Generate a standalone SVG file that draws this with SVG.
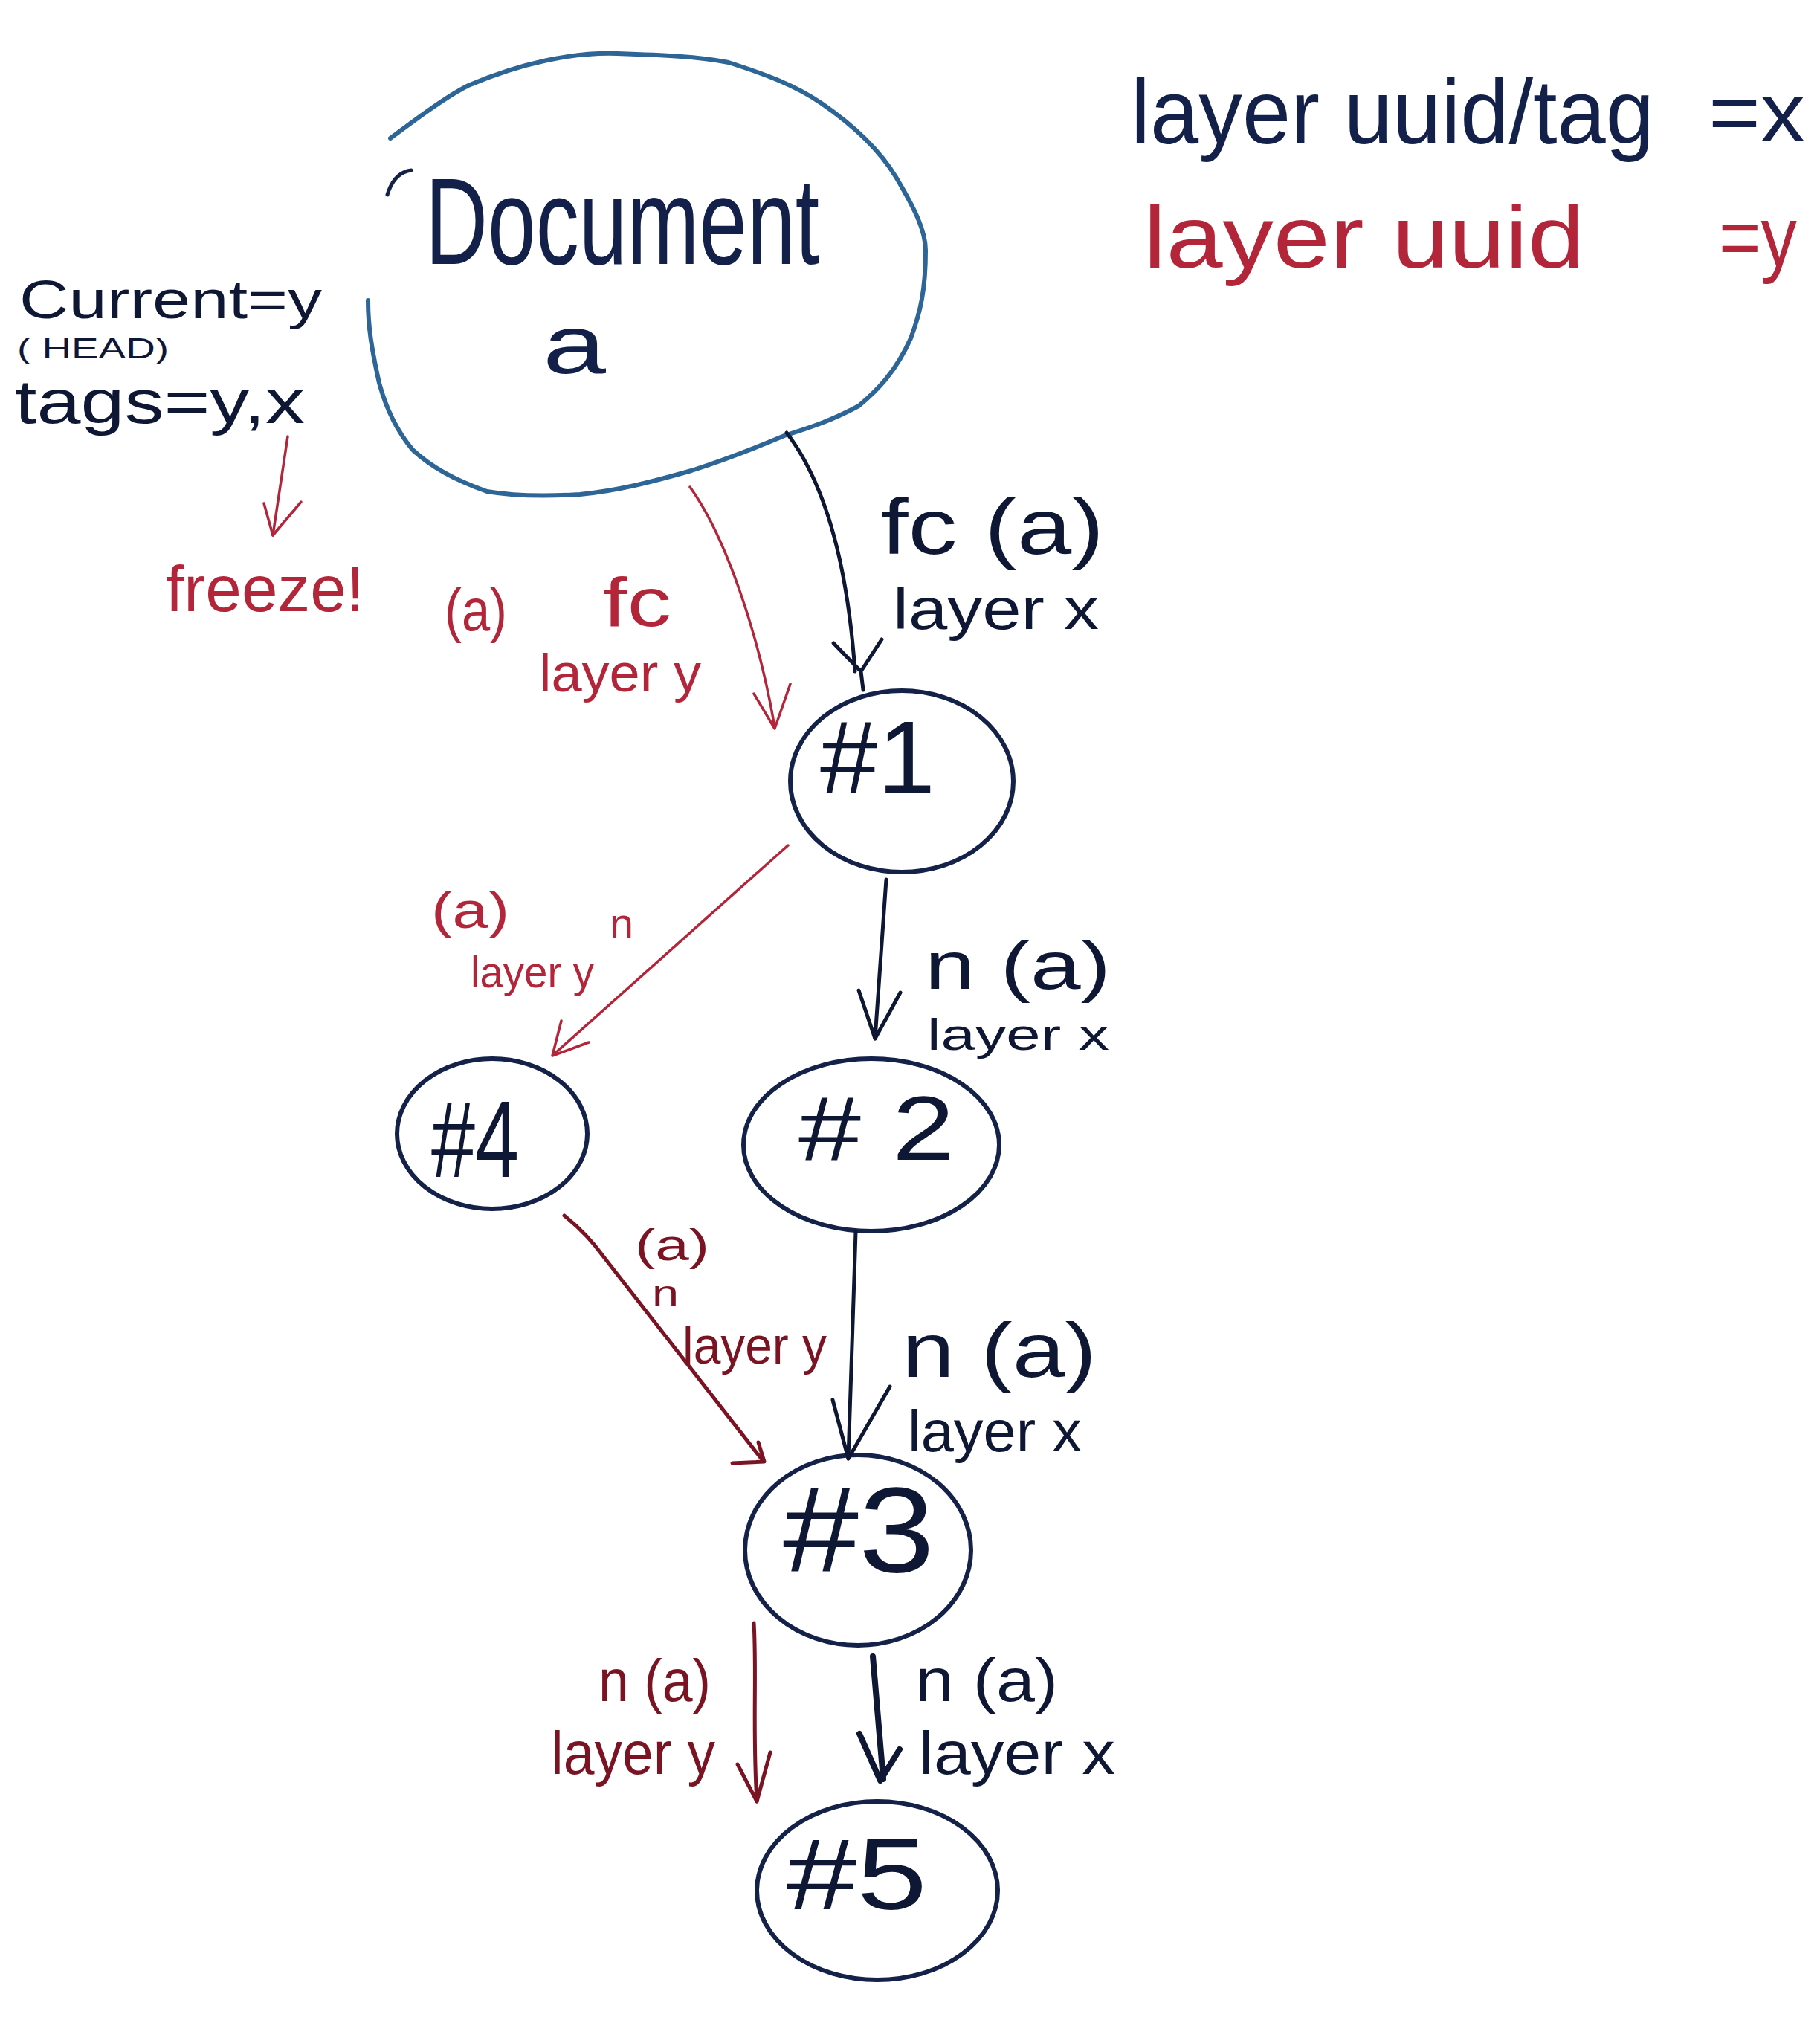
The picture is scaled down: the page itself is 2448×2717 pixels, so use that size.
<svg xmlns="http://www.w3.org/2000/svg" width="2448" height="2717" viewBox="0 0 2448 2717">
<style>
.bg{fill:#ffffff}
.node{fill:none;stroke:#14224a;stroke-width:6;stroke-linecap:round}
.blob{fill:none;stroke:#2d6596;stroke-width:6;stroke-linecap:round}
.ink{fill:none;stroke:#0e1733;stroke-width:5;stroke-linecap:round;stroke-linejoin:round}
.inkb{fill:none;stroke:#0e1733;stroke-width:8;stroke-linecap:round;stroke-linejoin:round}
.red{fill:none;stroke:#b3263a;stroke-width:3.5;stroke-linecap:round;stroke-linejoin:round}
.maroon{fill:none;stroke:#7a1322;stroke-width:5;stroke-linecap:round;stroke-linejoin:round}
text{font-family:"Liberation Sans","DejaVu Sans",sans-serif}
.tn{fill:#0e1733}
.tnav{fill:#12204a}
.tr{fill:#b3263a}
.tm{fill:#7a1322}
</style>
<rect class="bg" x="0" y="0" width="2448" height="2717"/>

<!-- legend / notes -->
<g id="notes">
<text class="tn" x="26" y="428" font-size="72" textLength="407" lengthAdjust="spacingAndGlyphs">Current=y</text>
<text class="tn" x="23" y="482" font-size="38" textLength="204" lengthAdjust="spacingAndGlyphs">( HEAD)</text>
<text class="tn" x="20" y="569" font-size="84" textLength="390" lengthAdjust="spacingAndGlyphs">tags=y,x</text>
<text class="tr" x="223" y="822" font-size="88" textLength="267" lengthAdjust="spacingAndGlyphs">freeze!</text>
<text class="tnav" x="1521" y="193" font-size="122" textLength="704" lengthAdjust="spacingAndGlyphs">layer uuid/tag</text>
<text class="tnav" x="2298" y="190" font-size="112" textLength="130" lengthAdjust="spacingAndGlyphs">=x</text>
<text class="tr" x="1538" y="360" font-size="118" textLength="593" lengthAdjust="spacingAndGlyphs">layer uuid</text>
<text class="tr" x="2312" y="358" font-size="115" textLength="105" lengthAdjust="spacingAndGlyphs">=y</text>
</g>

<!-- nodes -->
<g id="node-document">
<path class="blob" d="M525,186 C560,160 600,130 630,115 C700,85 770,70 830,72 C890,74 940,76 980,84 C1030,100 1070,115 1105,139 C1150,170 1185,205 1205,238 C1230,280 1245,310 1245,337 C1245,390 1238,420 1225,455 C1205,500 1180,525 1155,546 C1120,565 1090,575 1055,586 C1010,605 970,620 930,633 C870,650 830,660 780,665 C730,668 690,667 655,661 C610,645 580,628 555,605 C530,575 518,545 510,515 C500,470 495,440 495,404"/>
<path class="ink" d="M553,229 Q530,232 521,262" style="stroke:#14224a"/>
<text class="tnav" x="572" y="355" font-size="165" textLength="530" lengthAdjust="spacingAndGlyphs">Document</text>
<text class="tnav" x="730" y="502" font-size="112" textLength="85" lengthAdjust="spacingAndGlyphs">a</text>
</g>
<g id="node-1">
<ellipse class="node" cx="1213" cy="1051" rx="150" ry="122"/>
<text class="tn" x="1103" y="1067" font-size="140" textLength="155" lengthAdjust="spacingAndGlyphs">#1</text>
</g>
<g id="node-2">
<ellipse class="node" cx="1172" cy="1540" rx="172" ry="116"/>
<text class="tn" x="1074" y="1560" font-size="122" textLength="210" lengthAdjust="spacingAndGlyphs"># 2</text>
</g>
<g id="node-4">
<ellipse class="node" cx="662" cy="1525" rx="128" ry="101"/>
<text class="tn" x="580" y="1583" font-size="146" textLength="118" lengthAdjust="spacingAndGlyphs">#4</text>
</g>
<g id="node-3">
<ellipse class="node" cx="1154" cy="2085" rx="152" ry="128"/>
<text class="tn" x="1053" y="2114" font-size="163" textLength="204" lengthAdjust="spacingAndGlyphs">#3</text>
</g>
<g id="node-5">
<ellipse class="node" cx="1180" cy="2543" rx="162" ry="120"/>
<text class="tn" x="1058" y="2568" font-size="135" textLength="189" lengthAdjust="spacingAndGlyphs">#5</text>
</g>

<!-- connectors -->
<g id="connectors">
<path class="ink" d="M1058,582 C1110,650 1140,760 1150,903"/>
<path class="ink" d="M1121,865 L1158,903 L1186,860 M1158,903 L1161,928"/>
<path class="red" d="M928,655 C975,720 1020,850 1042,978"/>
<path class="red" d="M1014,933 L1042,980 L1063,920"/>
<path class="red" d="M1060,1137 L745,1418"/>
<path class="red" d="M755,1373 L743,1420 L792,1402"/>
<path class="ink" d="M1192,1183 L1177,1397"/>
<path class="ink" d="M1155,1332 L1177,1397 L1211,1335"/>
<path class="maroon" d="M759,1635 Q790,1660 810,1688 L1024,1962"/>
<path class="maroon" d="M985,1968 L1028,1966 L1020,1940"/>
<path class="ink" d="M1151,1657 L1141,1962"/>
<path class="ink" d="M1120,1883 L1141,1962 L1197,1865"/>
<path class="maroon" d="M1014,2183 C1018,2250 1012,2330 1018,2423"/>
<path class="maroon" d="M992,2373 L1018,2423 L1036,2357"/>
<path class="inkb" d="M1174,2228 L1188,2393"/>
<path class="inkb" d="M1156,2332 L1184,2395 L1210,2353"/>
<path class="red" d="M387,587 L367,720"/>
<path class="red" d="M355,677 L367,720 L405,675"/>
</g>

<!-- connector labels -->
<g id="labels">
<text class="tn" x="1185" y="745" font-size="106" textLength="300" lengthAdjust="spacingAndGlyphs">fc (a)</text>
<text class="tn" x="1201" y="846" font-size="78" textLength="277" lengthAdjust="spacingAndGlyphs">layer x</text>
<text class="tr" x="598" y="848" font-size="80" textLength="84" lengthAdjust="spacingAndGlyphs">(a)</text>
<text class="tr" x="811" y="842" font-size="92" textLength="92" lengthAdjust="spacingAndGlyphs">fc</text>
<text class="tr" x="725" y="930" font-size="72" textLength="218" lengthAdjust="spacingAndGlyphs">layer y</text>

<text class="tr" x="580" y="1248" font-size="68" textLength="105" lengthAdjust="spacingAndGlyphs">(a)</text>
<text class="tr" x="633" y="1328" font-size="60" textLength="166" lengthAdjust="spacingAndGlyphs">layer y</text>
<text class="tr" x="820" y="1262" font-size="58" textLength="32" lengthAdjust="spacingAndGlyphs">n</text>
<text class="tn" x="1244" y="1330" font-size="90" textLength="250" lengthAdjust="spacingAndGlyphs">n (a)</text>
<text class="tn" x="1247" y="1412" font-size="60" textLength="245" lengthAdjust="spacingAndGlyphs">layer x</text>

<text class="tm" x="854" y="1695" font-size="60" textLength="100" lengthAdjust="spacingAndGlyphs">(a)</text>
<text class="tm" x="877" y="1756" font-size="48" textLength="36" lengthAdjust="spacingAndGlyphs">n</text>
<text class="tm" x="918" y="1834" font-size="70" textLength="194" lengthAdjust="spacingAndGlyphs">layer y</text>
<text class="tn" x="1213" y="1852" font-size="104" textLength="262" lengthAdjust="spacingAndGlyphs">n (a)</text>
<text class="tn" x="1221" y="1952" font-size="78" textLength="234" lengthAdjust="spacingAndGlyphs">layer x</text>

<text class="tm" x="805" y="2288" font-size="80" textLength="151" lengthAdjust="spacingAndGlyphs">n (a)</text>
<text class="tm" x="741" y="2386" font-size="82" textLength="221" lengthAdjust="spacingAndGlyphs">layer y</text>
<text class="tn" x="1231" y="2288" font-size="82" textLength="192" lengthAdjust="spacingAndGlyphs">n (a)</text>
<text class="tn" x="1236" y="2386" font-size="82" textLength="264" lengthAdjust="spacingAndGlyphs">layer x</text>
</g>
</svg>
